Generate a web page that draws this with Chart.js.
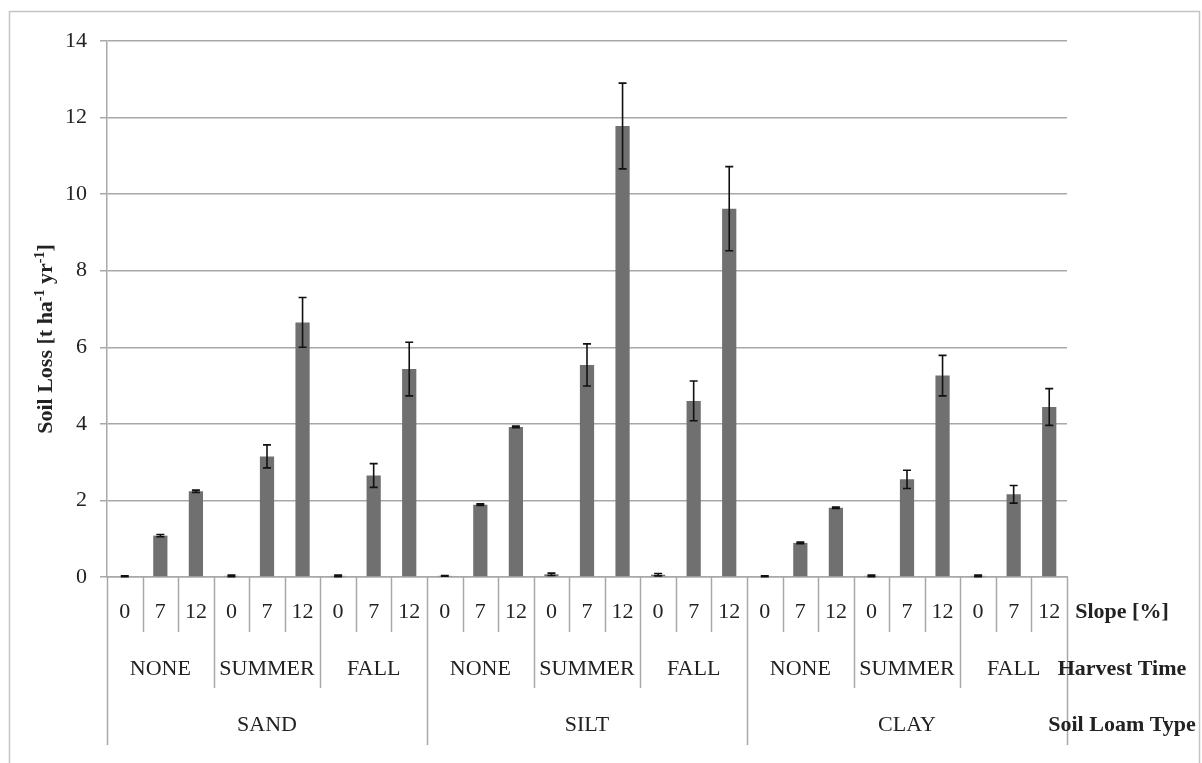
<!DOCTYPE html>
<html>
<head>
<meta charset="utf-8">
<script src="https://cdn.jsdelivr.net/npm/chart.js@4.4.0/dist/chart.umd.min.js"></script>
<style>
  html, body { margin: 0; padding: 0; background: #fff; overflow: hidden; }
  #wrap { position: relative; width: 1202px; height: 763px; }
</style>
</head>
<body>
<div id="wrap"><canvas id="chart"></canvas></div>
<script>
// slope categories, in plot order (3 per harvest time, 9 per soil type)
const slopeLabels = ['0', '7', '12', '0', '7', '12', '0', '7', '12',
                     '0', '7', '12', '0', '7', '12', '0', '7', '12',
                     '0', '7', '12', '0', '7', '12', '0', '7', '12']
const harvestTimes = ['NONE', 'SUMMER', 'FALL']
const soilTypes = ['SAND', 'SILT', 'CLAY']

// mean soil loss [t ha-1 yr-1]
const soilLoss = [0.02, 1.08, 2.24, 0.03, 3.15, 6.65, 0.03, 2.65, 5.43,
                  0.03, 1.89, 3.92, 0.07, 5.54, 11.78, 0.06, 4.60, 9.62,
                  0.02, 0.89, 1.81, 0.03, 2.55, 5.26, 0.03, 2.16, 4.44]
// error bar half-length
const soilLossErr = [0.01, 0.03, 0.03, 0.02, 0.30, 0.65, 0.02, 0.31, 0.70,
                     0.01, 0.02, 0.02, 0.03, 0.55, 1.12, 0.03, 0.52, 1.10,
                     0.01, 0.02, 0.02, 0.02, 0.24, 0.53, 0.02, 0.23, 0.48]

const yTicks = [0, 2, 4, 6, 8, 10, 12, 14]

const FONT = '"Liberation Serif", "Times New Roman", serif'
const GRID = '#a8a8a8'
const TEXT = '#222'

// light frame around the whole chart
const framePlugin = {
  id: 'frame',
  beforeDraw(chart) {
    const ctx = chart.ctx
    ctx.save()
    ctx.strokeStyle = '#c4c4c4'
    ctx.lineWidth = 1.5
    ctx.strokeRect(9.5, 11.5, 1190, 800)
    ctx.restore()
  }
}

// error bars on top of each bar
const errorBarPlugin = {
  id: 'errorBars',
  afterDatasetsDraw(chart) {
    const ctx = chart.ctx
    const y = chart.scales.y
    const meta = chart.getDatasetMeta(0)
    ctx.save()
    ctx.strokeStyle = '#111'
    ctx.lineWidth = 1.6
    meta.data.forEach((bar, i) => {
      const top = y.getPixelForValue(soilLoss[i] + soilLossErr[i])
      const bot = y.getPixelForValue(Math.max(0, soilLoss[i] - soilLossErr[i]))
      ctx.beginPath()
      ctx.moveTo(bar.x, top); ctx.lineTo(bar.x, bot)
      ctx.moveTo(bar.x - 4, top); ctx.lineTo(bar.x + 4, top)
      ctx.moveTo(bar.x - 4, bot); ctx.lineTo(bar.x + 4, bot)
      ctx.stroke()
    })
    ctx.restore()
  }
}

// three-level category axis + y title with superscripts
const axisPlugin = {
  id: 'multiAxis',
  afterDraw(chart) {
    const ctx = chart.ctx
    const x = chart.scales.x
    const area = chart.chartArea
    const half = (x.getPixelForValue(1) - x.getPixelForValue(0)) / 2
    const edge = i => x.getPixelForValue(0) - half + i * half * 2
    const n = slopeLabels.length

    ctx.save()
    // dividers
    ctx.strokeStyle = GRID
    ctx.lineWidth = 1.5
    for (let i = 0; i <= n; i++) {
      let len = 55
      if (i % 9 === 0) len = 168
      else if (i % 3 === 0) len = 111
      const px = Math.round(edge(i)) + 0.5
      ctx.beginPath()
      ctx.moveTo(px, area.bottom)
      ctx.lineTo(px, area.bottom + len)
      ctx.stroke()
    }

    ctx.fillStyle = TEXT
    ctx.textAlign = 'center'
    ctx.textBaseline = 'middle'
    ctx.font = '22px ' + FONT
    slopeLabels.forEach((s, i) => {
      ctx.fillText(s, x.getPixelForValue(i), area.bottom + 35)
    })
    soilTypes.forEach((soil, si) => {
      harvestTimes.forEach((h, hi) => {
        const g = si * 3 + hi
        ctx.fillText(h, (edge(g * 3) + edge(g * 3 + 3)) / 2, area.bottom + 92)
      })
      ctx.fillText(soil, (edge(si * 9) + edge(si * 9 + 9)) / 2, area.bottom + 148)
    })

    // row titles on the right
    ctx.font = 'bold 22px ' + FONT
    const rx = 1122
    ctx.fillText('Slope [%]', rx, area.bottom + 35)
    ctx.fillText('Harvest Time', rx, area.bottom + 92)
    ctx.fillText('Soil Loam Type', rx, area.bottom + 148)

    // y axis title, rotated, with superscripts
    const parts = [
      ['Soil Loss [t ha', false], ['-1', true], [' yr', false], ['-1', true], [']', false]
    ]
    const big = 'bold 22px ' + FONT
    const small = 'bold 14px ' + FONT
    let total = 0
    parts.forEach(([t, sup]) => { ctx.font = sup ? small : big; total += ctx.measureText(t).width })
    ctx.translate(44, 339)
    ctx.rotate(-Math.PI / 2)
    ctx.textAlign = 'left'
    ctx.textBaseline = 'alphabetic'
    let cx = -total / 2
    parts.forEach(([t, sup]) => {
      ctx.font = sup ? small : big
      ctx.fillText(t, cx, sup ? 0 : 8)
      cx += ctx.measureText(t).width
    })
    ctx.restore()
  }
}

new Chart(document.getElementById('chart'), {
  type: 'bar',
  data: {
    labels: slopeLabels,
    datasets: [{
      label: 'Soil Loss',
      data: soilLoss,
      backgroundColor: '#707070',
      borderWidth: 0,
      categoryPercentage: 1,
      barPercentage: 0.4
    }]
  },
  options: {
    responsive: true,
    maintainAspectRatio: false,
    animation: false,
    layout: { padding: { top: 41, right: 135, left: 0, bottom: 0 } },
    plugins: {
      legend: { display: false },
      tooltip: { enabled: false }
    },
    scales: {
      x: {
        offset: true,
        grid: { display: false, drawTicks: false },
        border: { display: true, color: GRID, width: 1.5 },
        ticks: { display: false },
        afterFit: s => { s.height = 186 }
      },
      y: {
        min: 0,
        max: 14,
        afterBuildTicks: s => { s.ticks = yTicks.map(v => ({ value: v })) },
        grid: { color: GRID, lineWidth: 1.5, tickLength: 7 },
        border: { display: true, color: GRID, width: 1.5 },
        ticks: { color: TEXT, padding: 13, font: { family: FONT, size: 22 } },
        afterFit: s => { s.width = 107 }
      }
    }
  },
  plugins: [framePlugin, errorBarPlugin, axisPlugin]
})
</script>
</body>
</html>
